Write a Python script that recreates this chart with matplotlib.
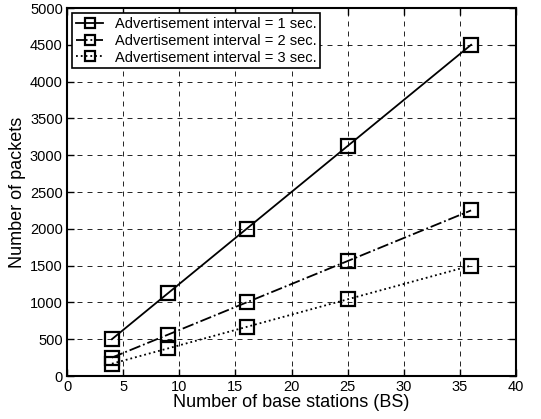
import matplotlib
matplotlib.use("Agg")
from matplotlib import pyplot as plt

plt.rcParams['font.family'] = ['Liberation Sans', 'DejaVu Sans']

stations = [4, 9, 16, 25, 36]
interval_1 = [500, 1125, 2000, 3125, 4500]
interval_2 = [250, 562, 1000, 1562, 2250]
interval_3 = [167, 375, 667, 1042, 1500]
labels = ["Advertisement interval = 1 sec.",
          "Advertisement interval = 2 sec.",
          "Advertisement interval = 3 sec."]


def main():
    fig = plt.figure(figsize=(5.41, 4.19), dpi=100)
    ax = fig.add_axes([67 / 541, 43 / 419, 449 / 541, 368 / 419])
    styles = ['-', '-.', ':']
    for ys, ls, lab in zip([interval_1, interval_2, interval_3], styles, labels):
        ax.plot(stations, ys, color='black', linestyle=ls, linewidth=1.3,
                marker='s', markersize=10, markerfacecolor='none',
                markeredgewidth=1.6, label=lab)
    ax.set_xlim(0, 40)
    ax.set_ylim(0, 5000)
    ax.set_xticks(range(0, 41, 5))
    ax.set_yticks(range(0, 5001, 500))
    ax.grid(True, color='black', linestyle=(0, (6, 6)), linewidth=0.6)
    ax.tick_params(direction='in', top=True, right=True, labelsize=10.5,
                   length=5, width=1, pad=3)
    for s in ax.spines.values():
        s.set_linewidth(1.5)
    ax.set_xlabel("Number of base stations (BS)", fontsize=13, labelpad=0)
    ax.set_ylabel("Number of packets", fontsize=13, labelpad=3)
    leg = ax.legend(loc='upper left', fontsize=10.5, frameon=True, fancybox=False,
                    edgecolor='black', framealpha=1, handlelength=1.9,
                    markerscale=0.75, borderpad=0.25, labelspacing=0.2,
                    handletextpad=0.8, borderaxespad=0.35)
    leg.get_frame().set_linewidth(1.2)
    fig.savefig('out.png', dpi=100)


if __name__ == '__main__':
    main()
